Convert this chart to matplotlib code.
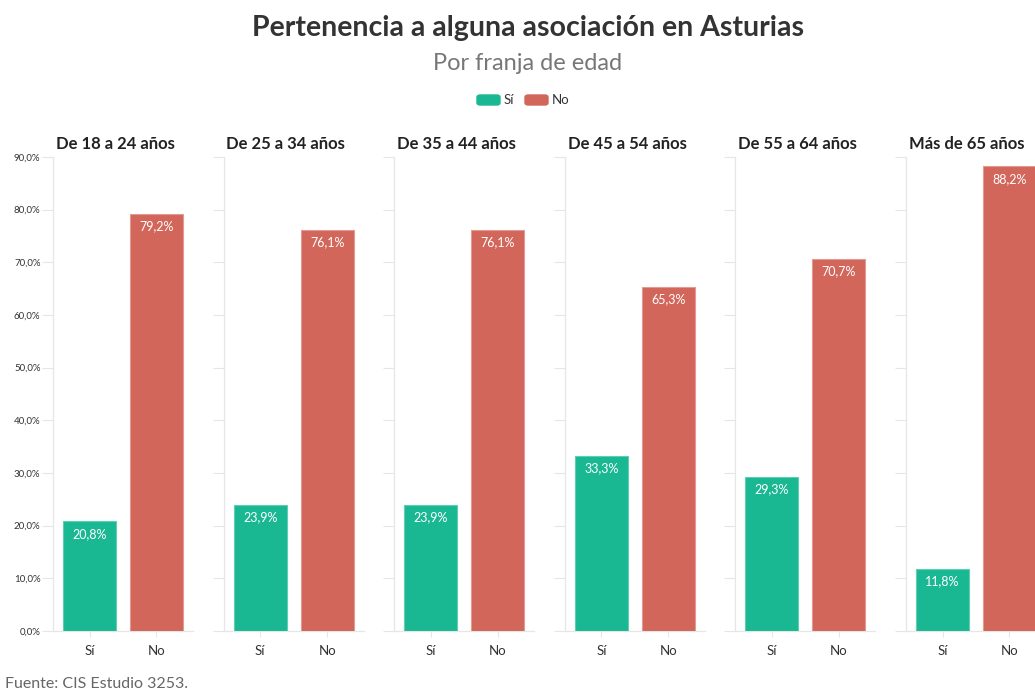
import matplotlib
matplotlib.use("Agg")
import matplotlib.pyplot as plt
from matplotlib.patches import FancyBboxPatch

plt.rcParams['font.family'] = ['Lato', 'DejaVu Sans']

groups = ["De 18 a 24 años", "De 25 a 34 años", "De 35 a 44 años",
          "De 45 a 54 años", "De 55 a 64 años", "Más de 65 años"]
categories = ["Sí", "No"]
si_values = [20.8, 23.9, 23.9, 33.3, 29.3, 11.8]
no_values = [79.2, 76.1, 76.1, 65.3, 70.7, 88.2]
yticks = [0, 10, 20, 30, 40, 50, 60, 70, 80, 90]

green = "#1AB793"
red = "#D2665A"
green_edge = "#5FCDB2"
red_edge = "#E39A92"
axis_c = "#E6E6E6"

W, H = 1035, 691
fig = plt.figure(figsize=(W / 100, H / 100), dpi=100)

left0 = 53
step = 170.6
pw = 140
bottom_px = 631
top_px = 157

for i, g in enumerate(groups):
    x0 = left0 + i * step
    ax = fig.add_axes([x0 / W, (H - bottom_px) / H, pw / W, (bottom_px - top_px) / H])
    vals = [si_values[i], no_values[i]]
    bars = ax.bar([0, 1], vals, width=0.79, color=[green, red],
                  edgecolor=[green_edge, red_edge], linewidth=0.8, zorder=3)
    for b, v in zip(bars, vals):
        ax.text(b.get_x() + b.get_width() / 2, v - 1.2, f"{v:.1f}%".replace(".", ","),
                ha="center", va="top", color="white", fontsize=9, zorder=4)
    ax.set_xlim(-0.545, 1.545)
    ax.set_ylim(0, 90)
    ax.set_yticks(yticks)
    ax.set_xticks([0, 1])
    ax.set_xticklabels(categories, fontsize=9.5, color="#333333")
    ax.tick_params(axis="x", length=4, color=axis_c, pad=6)
    ax.tick_params(axis="y", length=8, color=axis_c, labelsize=7, labelcolor="#333333", pad=1)
    if i == 0:
        ax.set_yticklabels([f"{t:.1f}%".replace(".", ",") for t in yticks])
    else:
        ax.set_yticklabels([])
    for s in ["top", "right"]:
        ax.spines[s].set_visible(False)
    for s in ["left", "bottom"]:
        ax.spines[s].set_color(axis_c)
        ax.spines[s].set_linewidth(0.9)
    ax.set_title(g, fontsize=12, fontweight="bold", color="#222222", pad=6, loc="left", x=0.02)

fig.text(528 / W, 1 - 28 / H, "Pertenencia a alguna asociación en Asturias",
         ha="center", va="center", fontsize=20.5, fontweight="bold", color="#333333")
fig.text(528 / W, 1 - 63 / H, "Por franja de edad",
         ha="center", va="center", fontsize=17, color="#777777")

# legend
ly = 1 - 100 / H
for x, c, lab in [(477, green, "Sí"), (525, red, "No")]:
    fig.patches.append(FancyBboxPatch((x / W, ly - 5 / H), 23 / W, 10 / H,
                                      boxstyle="round,pad=0,rounding_size=0.003",
                                      transform=fig.transFigure, color=c, figure=fig))
    fig.text((x + 27) / W, ly, lab, ha="left", va="center", fontsize=9.5, color="#333333")

fig.text(5 / W, 1 - 684 / H, "Fuente: CIS Estudio 3253.", ha="left", va="center",
         fontsize=11.5, color="#666666")

fig.savefig("out.png", dpi=100)
